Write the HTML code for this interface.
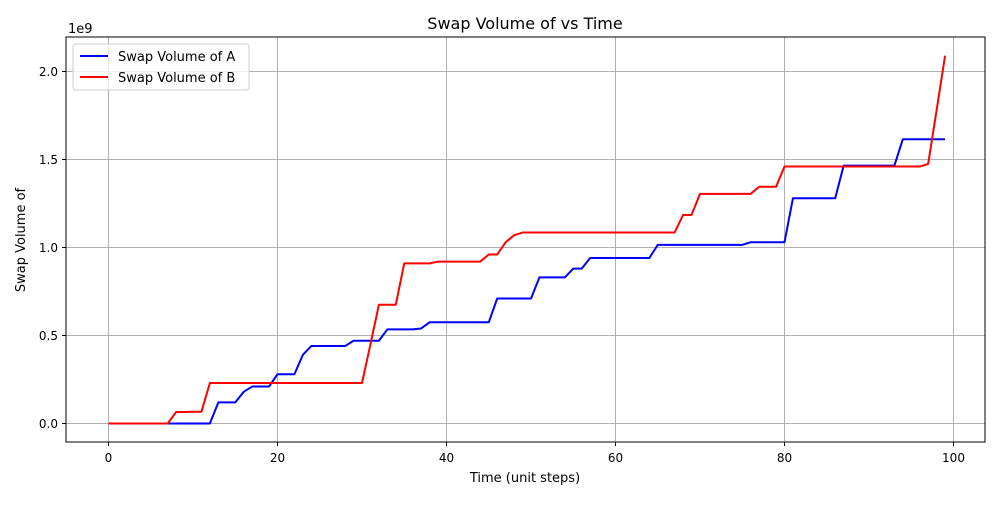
<!DOCTYPE html>
<html><head><meta charset="utf-8"><style>
body{margin:0;background:#fff;font-family:"Liberation Sans","DejaVu Sans",sans-serif}
svg text{font-family:"DejaVu Sans","Liberation Sans",sans-serif}
</style></head><body>
<svg id="chart" width="1000" height="500" xmlns="http://www.w3.org/2000/svg">
<rect width="1000" height="500" fill="#fff"/>
<g id="grid"></g>
<g id="lines"></g>
<rect x="66" y="37" width="919" height="405" fill="none" stroke="#000" stroke-width="1"/>
<g id="ticks"></g>
<text x="525" y="29" text-anchor="middle" font-size="16">Swap Volume of vs Time</text>
<text x="525" y="482" text-anchor="middle" font-size="13">Time (unit steps)</text>
<text transform="translate(25,240) rotate(-90)" text-anchor="middle" font-size="13">Swap Volume of</text>
<text x="68" y="33" font-size="13">1e9</text>
<g>
<rect x="73" y="44" width="176" height="46" rx="3" fill="#fff" fill-opacity="0.8" stroke="#ccc"/>
<g><line x1="80" y1="56" x2="108" y2="56" stroke="#0000ff" stroke-width="2"/><text x="118" y="61" font-size="13">Swap Volume of A</text></g>
<g><line x1="80" y1="77" x2="108" y2="77" stroke="#ff0000" stroke-width="2"/><text x="118" y="82" font-size="13">Swap Volume of B</text></g>
</g>
</svg>
<script>
const xTicks=[0,20,40,60,80,100];
const yTicks=[0,0.5,1.0,1.5,2.0];
const yTickLabels=["0.0","0.5","1.0","1.5","2.0"];
const seriesA=[0,0,0,0,0,0,0,0,0,0,0,0,0,0.12,0.12,0.12,0.18,0.21,0.21,0.21,0.28,0.28,0.28,0.39,0.44,0.44,0.44,0.44,0.44,0.47,0.47,0.47,0.47,0.535,0.535,0.535,0.535,0.54,0.575,0.575,0.575,0.575,0.575,0.575,0.575,0.575,0.71,0.71,0.71,0.71,0.71,0.83,0.83,0.83,0.83,0.88,0.88,0.94,0.94,0.94,0.94,0.94,0.94,0.94,0.94,1.015,1.015,1.015,1.015,1.015,1.015,1.015,1.015,1.015,1.015,1.015,1.03,1.03,1.03,1.03,1.03,1.28,1.28,1.28,1.28,1.28,1.28,1.465,1.465,1.465,1.465,1.465,1.465,1.465,1.615,1.615,1.615,1.615,1.615,1.615];
const seriesB=[0,0,0,0,0,0,0,0,0.065,0.065,0.067,0.067,0.23,0.23,0.23,0.23,0.23,0.23,0.23,0.23,0.23,0.23,0.23,0.23,0.23,0.23,0.23,0.23,0.23,0.23,0.23,0.45,0.675,0.675,0.675,0.91,0.91,0.91,0.91,0.92,0.92,0.92,0.92,0.92,0.92,0.96,0.96,1.03,1.07,1.085,1.085,1.085,1.085,1.085,1.085,1.085,1.085,1.085,1.085,1.085,1.085,1.085,1.085,1.085,1.085,1.085,1.085,1.085,1.185,1.185,1.305,1.305,1.305,1.305,1.305,1.305,1.305,1.345,1.345,1.345,1.46,1.46,1.46,1.46,1.46,1.46,1.46,1.46,1.46,1.46,1.46,1.46,1.46,1.46,1.46,1.46,1.46,1.475,1.78,2.09];
const NS="http://www.w3.org/2000/svg";
const X=v=>108.5+v*8.45;
const Y=v=>423.5-v*176;
const grid=document.getElementById('grid'),ticks=document.getElementById('ticks'),lines=document.getElementById('lines');
function mk(tag,attrs,parent){const e=document.createElementNS(NS,tag);for(const k in attrs)e.setAttribute(k,attrs[k]);parent.appendChild(e);return e;}
xTicks.forEach(t=>{
  const g=mk('line',{x1:X(t),x2:X(t),y1:37,y2:442,stroke:'#b0b0b0','stroke-width':1},grid);
  
  
  mk('line',{x1:X(t),x2:X(t),y1:442,y2:446,stroke:'#000'},ticks);
  const tx=mk('text',{x:X(t),y:462,'text-anchor':'middle','font-size':12},ticks);
  tx.textContent=t;
  
  
});
yTicks.forEach((t,i)=>{
  const g=mk('line',{x1:66,x2:985,y1:Y(t),y2:Y(t),stroke:'#b0b0b0','stroke-width':1},grid);
  
  
  mk('line',{x1:62,x2:66,y1:Y(t),y2:Y(t),stroke:'#000'},ticks);
  const tx=mk('text',{x:58,y:Y(t)+4.5,'text-anchor':'end','font-size':12},ticks);
  tx.textContent=yTickLabels[i];
  
  
});
function line(data,color,name){
  const p=mk('polyline',{points:data.map((v,i)=>X(i)+','+Y(v)).join(' '),fill:'none',stroke:color,'stroke-width':2,'stroke-linejoin':'round'},lines);
  
  
}
line(seriesA,'#0000ff','series-a-line');
line(seriesB,'#ff0000','series-b-line');
</script>
</body></html>
